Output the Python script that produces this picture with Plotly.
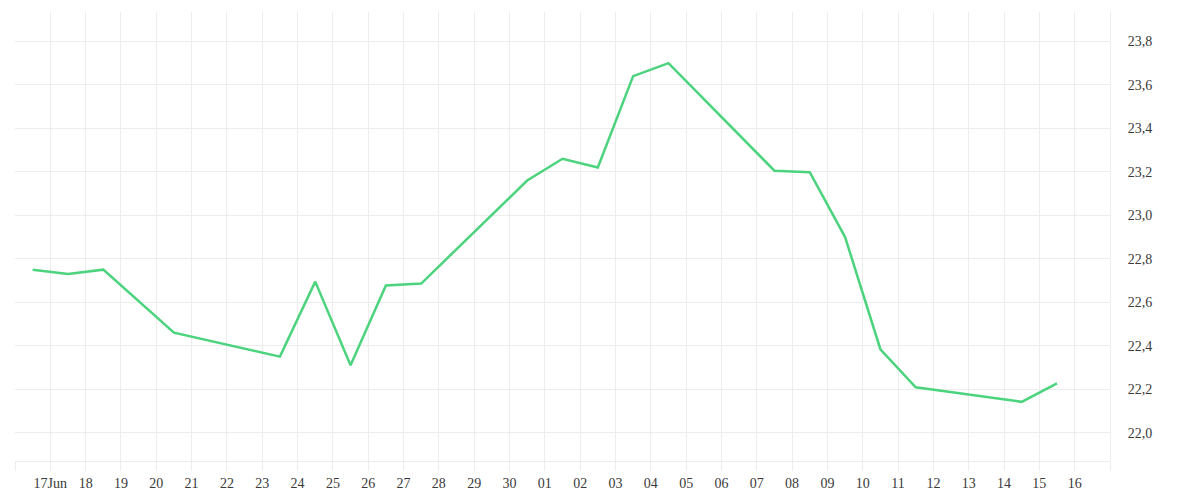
import plotly.graph_objects as go
import pandas as pd

dates = ["2024-06-17", "2024-06-18", "2024-06-19", "2024-06-21", "2024-06-24",
         "2024-06-25", "2024-06-26", "2024-06-27", "2024-06-28", "2024-07-01",
         "2024-07-02", "2024-07-03", "2024-07-04", "2024-07-05", "2024-07-08",
         "2024-07-09", "2024-07-10", "2024-07-11", "2024-07-12", "2024-07-15",
         "2024-07-16"]
values = [22.75, 22.73, 22.75, 22.46, 22.35,
          22.695, 22.31, 22.677, 22.686, 23.16,
          23.26, 23.22, 23.64, 23.70, 23.205,
          23.198, 22.90, 22.384, 22.209, 22.142,
          22.227]

tick_days = pd.date_range("2024-06-16 12:00", "2024-07-17 12:00", freq="D")
tick_labels = []
for i, d in enumerate(tick_days):
    if i == 0 or i == len(tick_days) - 1:
        tick_labels.append("")
    elif i == 1:
        tick_labels.append(d.strftime("%d") + "Jun")
    else:
        tick_labels.append(d.strftime("%d"))

y_ticks = [22.0, 22.2, 22.4, 22.6, 22.8, 23.0, 23.2, 23.4, 23.6, 23.8]
y_labels = [f"{v:.1f}".replace(".", ",") for v in y_ticks]

grid = "#ededed"
font = dict(family="Liberation Serif", size=14, color="#3a3a3a")

fig = go.Figure()
fig.add_trace(go.Scatter(
    x=pd.to_datetime(dates), y=values, mode="lines",
    line=dict(color="#4cd37d", width=2.5), hoverinfo="x+y"))

fig.update_layout(
    width=1200, height=500,
    margin=dict(l=7, r=98, t=4, b=47, autoexpand=False),
    paper_bgcolor="white", plot_bgcolor="white",
    showlegend=False, font=font,
)
fig.update_xaxes(
    range=[tick_days[0], tick_days[-1]],
    tickvals=list(tick_days), ticktext=tick_labels,
    showgrid=True, gridcolor=grid, gridwidth=1,
    showline=True, linecolor=grid, linewidth=1,
    ticks="outside", ticklen=9, tickcolor=grid,
    tickfont=font, zeroline=False, automargin=False,
)
fig.update_yaxes(
    side="right", range=[21.87, 23.935],
    tickvals=y_ticks, ticktext=y_labels,
    showgrid=True, gridcolor=grid, gridwidth=1,
    showline=True, linecolor=grid, linewidth=1,
    ticks="", ticklabelstandoff=14,
    tickfont=font, zeroline=False, automargin=False,
)

fig.write_html("out.html")
